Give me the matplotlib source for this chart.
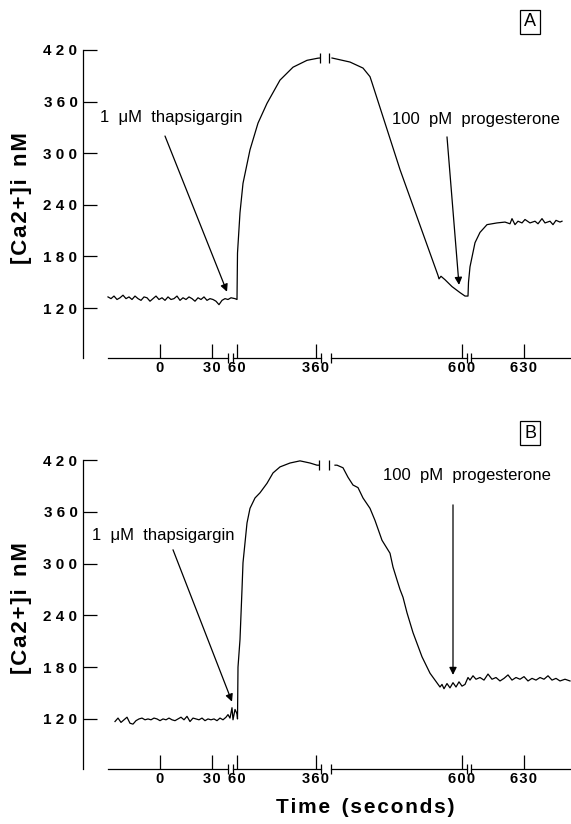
import matplotlib
matplotlib.use('Agg')
import matplotlib.pyplot as plt

plt.rcParams['font.family'] = ['Liberation Sans', 'DejaVu Sans']

# broken time axis: positions along the drawn axis, 0 s tick at 0
tick_pos = [0, 52, 77, 156, 302, 364]
tick_lab = ['0', '30', '60', '360', '600', '630']
axis_segs = [(-52, 68), (73, 161), (171, 307), (311, 410)]
axis_breaks = [68, 73, 161, 171, 307, 311]
y_ticks = [120, 180, 240, 300, 360, 420]
y_lim = (62, 420)

# panel A, before the break at the peak
a1_x = [-52, -49, -46, -43, -40, -37, -34, -31, -28, -25, -22, -19, -16, -13, -10, -7, -4, -1,
        2, 5, 8, 11, 14, 17, 20, 23, 26, 29, 32, 35, 38, 41, 44, 47, 50, 53, 56, 59, 62, 65,
        68, 71, 75, 77, 77.5, 80, 83, 90, 98, 107, 120, 133, 147, 158, 160]
a1_y = [133, 131, 134, 130, 132, 135, 131, 133, 130, 134, 131, 129, 133, 132, 128, 131, 134, 130,
        132, 129, 133, 130, 131, 134, 129, 132, 130, 133, 131, 128, 132, 130, 133, 129, 131, 130,
        128, 124, 129, 131, 130, 132, 131, 130, 184, 231, 265, 304, 335, 358, 385, 400, 408, 410.5, 410.7]
# panel A, after the break
a2_x = [172, 190, 203, 210, 212, 240, 278, 279, 281, 285, 292, 300, 305, 308, 308.5, 310, 315,
        320, 327, 337, 345, 350, 352, 355, 358, 362, 365, 370, 375, 378, 382, 385, 390, 393, 396,
        400, 402]
a2_y = [410.7, 406, 399, 389, 382, 281, 158, 154, 157, 153, 145, 138, 134, 134, 150, 168, 196,
        208, 217, 219, 220, 218, 224, 217, 221, 219, 223, 219, 221, 218, 224, 219, 221, 217, 222,
        220, 221]
a_marks = [160, 169]

# panel B
b1_x = [-45, -42, -39, -36, -33, -30, -27, -24, -21, -18, -15, -12, -9, -6, -3, 0, 3, 6, 9, 12,
        15, 18, 21, 24, 27, 30, 33, 36, 39, 42, 45, 48, 51, 54, 57, 60, 63, 66, 68, 70, 72, 73,
        75, 77, 77.5, 78, 80, 82, 83, 87, 90, 95, 100, 107, 113, 120, 130, 140, 150, 157, 159]
b1_y = [117, 121, 116, 119, 122, 115, 114, 118, 120, 121, 119, 120, 119, 121, 120, 118, 120, 119,
        121, 119, 118, 120, 122, 119, 123, 117, 121, 120, 119, 121, 118, 120, 119, 120, 118, 121,
        119, 122, 125, 121, 133, 119, 131, 126, 120, 180, 212, 270, 301, 347, 364, 376, 382, 393,
        405, 412, 416.5, 419, 416.5, 414, 414]
b2_x = [175, 177, 183, 188, 193, 198, 203, 210, 215, 222, 230, 233, 237, 240, 243, 247, 253, 262,
        270, 280, 282, 284, 287, 290, 293, 296, 299, 302, 305, 308, 310, 313, 316, 320, 324, 328,
        332, 336, 340, 344, 348, 352, 356, 360, 364, 368, 372, 376, 380, 384, 388, 392, 396, 400,
        405, 410]
b2_y = [414, 414, 411, 400, 391, 388, 376, 364, 350, 327, 312, 296, 281, 270, 261, 243, 220, 192,
        173, 157, 160, 155, 161, 156, 162, 157, 163, 158, 160, 168, 165, 170, 166, 168, 165, 172,
        166, 168, 164, 167, 171, 165, 168, 166, 169, 164, 167, 165, 168, 166, 170, 165, 167, 164,
        166, 164]
b_marks = [159, 169]

thap = '1  \u03bcM  thapsigargin'
prog = '100  pM  progesterone'


def spaced(s, sep='\u200a'):
    return sep.join(s)


def panel(ax, x1, y1, x2, y2, marks, peak, notes):
    ax.set_xlim(-77, 411)
    ax.set_ylim(*y_lim)
    for s in ['top', 'right', 'bottom']:
        ax.spines[s].set_visible(False)
    ax.spines['left'].set_linewidth(0.9)

    ax.plot(x1, y1, color='k', lw=0.9)
    ax.plot(x2, y2, color='k', lw=0.9)
    ax.vlines(marks, peak - 6, peak + 6, color='k', lw=0.9)

    # x axis drawn in pieces with break marks
    for a, b in axis_segs:
        ax.plot([a, b], [y_lim[0], y_lim[0]], color='k', lw=0.9, clip_on=False)
    ax.vlines(axis_breaks, y_lim[0] - 5.5, y_lim[0] + 5.5, color='k', lw=0.9, clip_on=False)

    ax.set_xticks(tick_pos)
    ax.set_xticklabels([spaced(t) for t in tick_lab], fontsize=10.5, fontweight='bold')
    ax.tick_params(axis='x', direction='in', length=10, width=0.9, pad=2.5)
    ax.set_yticks(y_ticks)
    ax.set_yticklabels([' '.join(str(v)) for v in y_ticks], fontsize=11, fontweight='bold')
    ax.tick_params(axis='y', direction='in', length=10, width=0.9, pad=4)

    ax.set_ylabel(spaced('[Ca2+]i') + '  ' + spaced('nM'), fontsize=16, fontweight='bold')
    ax.yaxis.set_label_coords(-0.105, 0.52)

    for txt, tx, ty, x0, y0, x1a, y1a in notes:
        ax.text(tx, ty, txt, fontsize=12, ha='left', va='baseline')
        ax.annotate('', xy=(x1a, y1a), xytext=(x0, y0),
                    arrowprops=dict(arrowstyle='-|>', color='k', lw=0.9,
                                    mutation_scale=11, shrinkA=0, shrinkB=0))


fig = plt.figure(figsize=(5.71, 8.24), dpi=100)
ax1 = fig.add_axes([83 / 571, 1 - 358 / 824, 1 - 83 / 571, 308 / 824])
ax2 = fig.add_axes([83 / 571, 1 - 769 / 824, 1 - 83 / 571, 309 / 824])

panel(ax1, a1_x, a1_y, a2_x, a2_y, a_marks, 410.7,
      [(thap, -60, 336, 5, 320, 67, 139),
       (prog, 232, 334, 287, 319, 299, 147)])
panel(ax2, b1_x, b1_y, b2_x, b2_y, b_marks, 414,
      [(thap, -68, 327, 13, 316, 72, 140),
       (prog, 223, 397, 293, 368, 293, 171)])

ax2.set_xlabel(spaced('Time') + '  ' + spaced('(seconds)'), fontsize=15, fontweight='bold')
ax2.xaxis.set_label_coords(0.578, -0.095)

for lab, yy in [('A', 22), ('B', 433)]:
    fig.text(530 / 571, 1 - yy / 824, lab, fontsize=13, ha='center', va='center',
             bbox=dict(boxstyle='square,pad=0.22', fc='white', ec='k', lw=0.9))

fig.savefig('out.png', dpi=100)
